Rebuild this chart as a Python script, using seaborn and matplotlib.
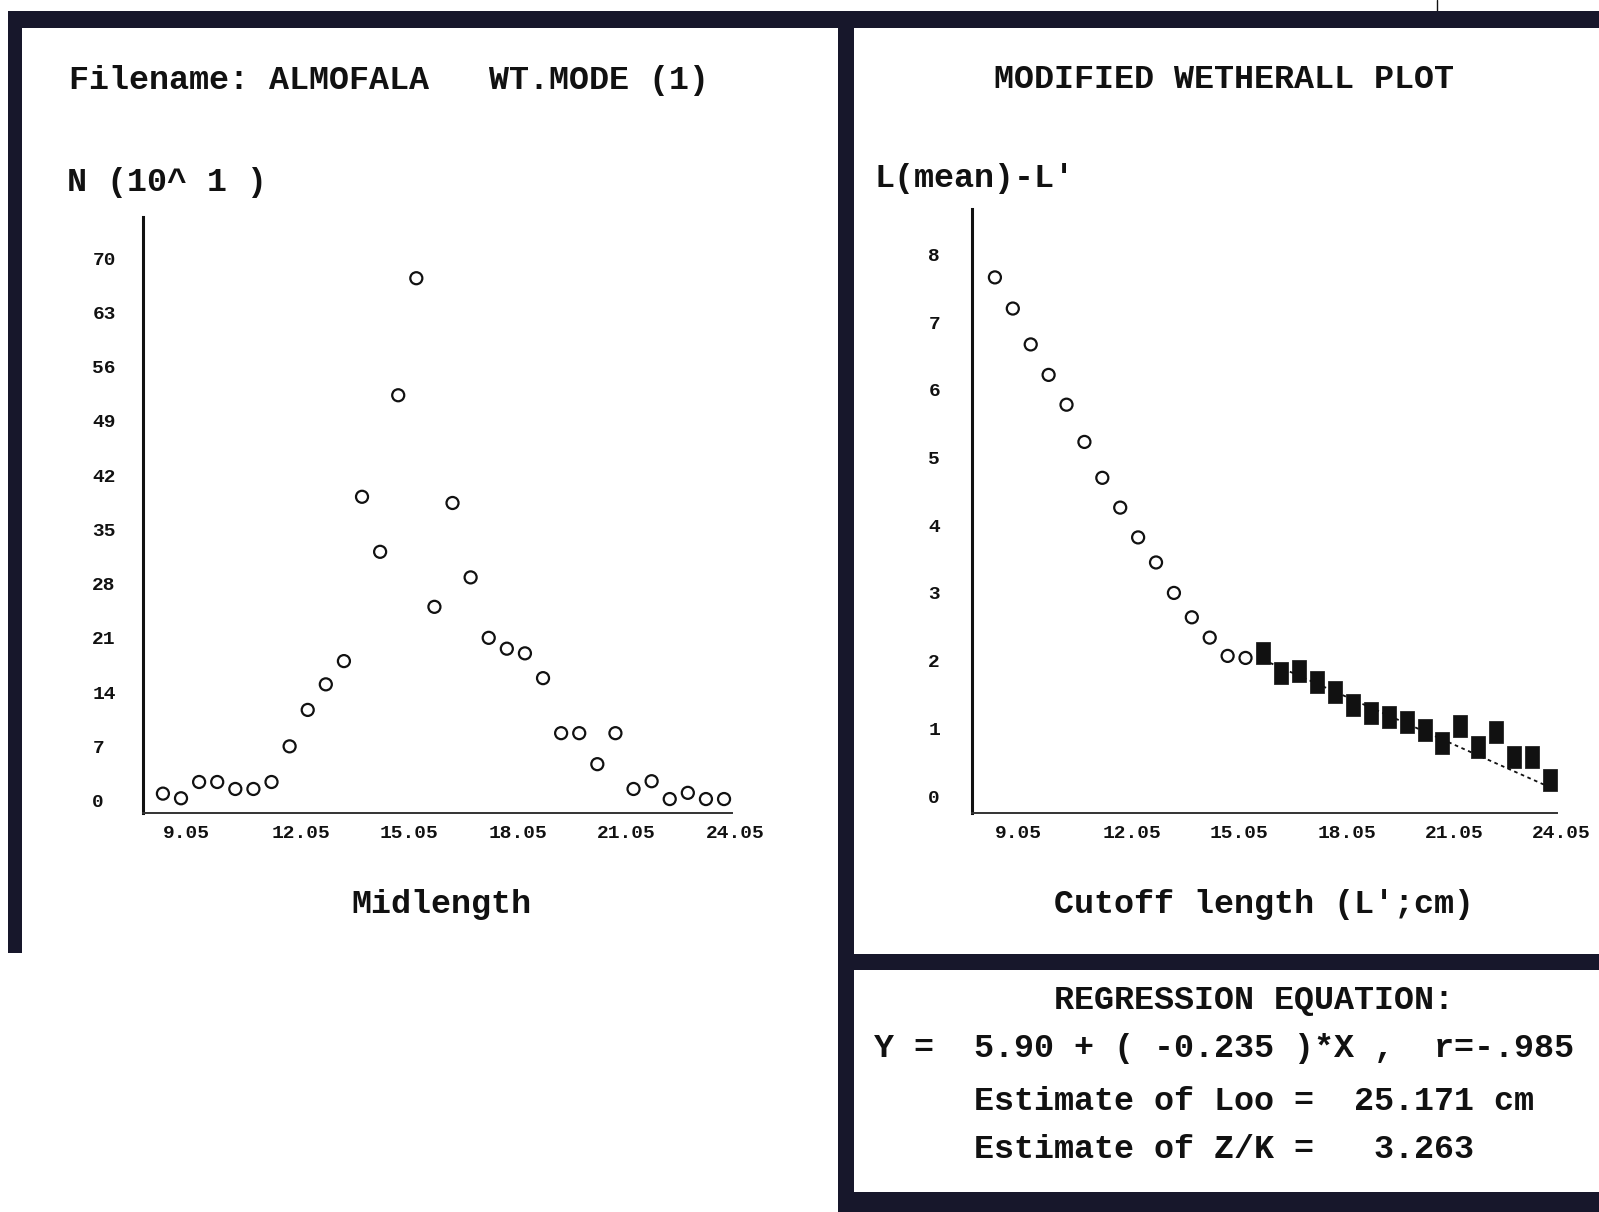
import numpy as np
import pandas as pd
import matplotlib
matplotlib.use("Agg")
import matplotlib.pyplot as plt
import seaborn as sns
from matplotlib.patches import Rectangle
from matplotlib.lines import Line2D

# ============================================================================
# DATA
# ============================================================================
midlength = [9.05, 9.55, 10.05, 10.55, 11.05, 11.55, 12.05, 12.55, 13.05, 13.55,
             14.05, 14.55, 15.05, 15.55, 16.05, 16.55, 17.05, 17.55, 18.05, 18.55,
             19.05, 19.55, 20.05, 20.55, 21.05, 21.55, 22.05, 22.55, 23.05, 23.55,
             24.05, 24.55]
n_freq = [0.9, 0.3, 2.4, 2.4, 1.5, 1.5, 2.4, 7.0, 11.7, 15.0,
          18.0, 39.2, 32.1, 52.3, 67.4, 25.0, 38.4, 28.8, 21.0, 19.6,
          19.0, 15.8, 8.7, 8.7, 4.7, 8.7, 1.5, 2.5, 0.2, 1.0,
          0.2, 0.2]

cutoff_open = [9.05, 9.55, 10.05, 10.55, 11.05, 11.55, 12.05, 12.55, 13.05,
               13.55, 14.05, 14.55, 15.05, 15.55, 16.05]
diff_open = [7.66, 7.20, 6.67, 6.22, 5.78, 5.23, 4.70, 4.26, 3.82,
             3.45, 3.00, 2.64, 2.34, 2.07, 2.04]
cutoff_used = [16.55, 17.05, 17.55, 18.05, 18.55, 19.05, 19.55, 20.05, 20.55,
               21.05, 21.55, 22.05, 22.55, 23.05, 23.55, 24.05, 24.55]
diff_used = [2.12, 1.82, 1.84, 1.68, 1.53, 1.35, 1.23, 1.17, 1.10,
             0.98, 0.79, 1.03, 0.73, 0.94, 0.57, 0.57, 0.24]

reg_a, reg_b = 5.90, -0.235
reg_x = [16.55, 24.55]

left_yticks = [0, 7, 14, 21, 28, 35, 42, 49, 56, 63, 70]
right_yticks = [0, 1, 2, 3, 4, 5, 6, 7, 8]
xticks = [9.05, 12.05, 15.05, 18.05, 21.05, 24.05]
xtick_labels = ["9.05", "12.05", "15.05", "18.05", "21.05", "24.05"]

box_lines = ["         REGRESSION EQUATION:",
             "Y =  5.90 + ( -0.235 )*X ,  r=-.985",
             "     Estimate of Loo =  25.171 cm",
             "     Estimate of Z/K =   3.263"]

# ============================================================================
# STYLE
# ============================================================================
W, H = 1599, 1212
sns.set_theme(style="white")
plt.rcParams["font.family"] = ["Liberation Mono", "DejaVu Sans Mono"]
plt.rcParams["font.weight"] = "bold"
INK = "#111111"
FRAME = "#17172b"

fig = plt.figure(figsize=(W / 100, H / 100), dpi=100)
fig.patch.set_facecolor("white")


def fx(x):
    return x / W


def fy(y):
    return 1 - y / H


def px_axes(x0, y0, x1, y1):
    return fig.add_axes([fx(x0), fy(y1), fx(x1 - x0), (y1 - y0) / H])


def style_axes(ax, ypad):
    sns.despine(ax=ax)
    ax.set_facecolor("white")
    ax.spines["left"].set_linewidth(2.2)
    ax.spines["left"].set_color(INK)
    ax.spines["bottom"].set_linewidth(1.4)
    ax.spines["bottom"].set_color("#333333")
    ax.spines["bottom"].set_linestyle((0, (3, 1)))
    ax.tick_params(axis="both", direction="in", length=4, width=1.2,
                   colors=INK, labelsize=14)
    ax.tick_params(axis="y", pad=ypad)
    ax.tick_params(axis="x", pad=9)
    for lab in ax.get_yticklabels():
        lab.set_horizontalalignment("left")
    for lab in ax.get_xticklabels():
        lab.set_horizontalalignment("left")
    ax.set_xlabel("")
    ax.set_ylabel("")
    ax.grid(False)


# ============================================================================
# LEFT PANEL : length frequency
# ============================================================================
ax1 = px_axes(143, 217, 732, 813)
df_left = pd.DataFrame({"x": midlength, "n": n_freq})
sns.scatterplot(data=df_left, x="x", y="n", ax=ax1, marker="o", s=75,
                facecolor="none", edgecolor=INK, linewidth=1.6)
ax1.set_xlim(8.50, 24.77)
ax1.set_ylim(-1.6, 75.3)
ax1.set_yticks(left_yticks)
ax1.set_yticklabels([str(v) for v in left_yticks])
ax1.set_xticks(xticks)
ax1.set_xticklabels(xtick_labels)
style_axes(ax1, ypad=36.5)

# ============================================================================
# RIGHT PANEL : modified Wetherall plot
# ============================================================================
ax2 = px_axes(972, 209, 1557, 813)
df_open = pd.DataFrame({"x": cutoff_open, "y": diff_open})
df_used = pd.DataFrame({"x": cutoff_used, "y": diff_used})
df_reg = pd.DataFrame({"x": reg_x, "y": [reg_a + reg_b * v for v in reg_x]})

sns.lineplot(data=df_reg, x="x", y="y", ax=ax2, color=INK, linewidth=1.3,
             linestyle=(0, (2, 2)))
sns.scatterplot(data=df_open, x="x", y="y", ax=ax2, marker="o", s=75,
                facecolor="none", edgecolor=INK, linewidth=1.6)
rect_marker = [(-0.33, -0.5), (0.33, -0.5), (0.33, 0.5), (-0.33, 0.5), (-0.33, -0.5)]
sns.scatterplot(data=df_used, x="x", y="y", ax=ax2, marker=rect_marker, s=240,
                color=INK, edgecolor=INK, linewidth=0.5)
ax2.set_xlim(8.41, 24.75)
ax2.set_ylim(-0.25, 8.67)
ax2.set_yticks(right_yticks)
ax2.set_yticklabels([str(v) for v in right_yticks])
ax2.set_xticks(xticks)
ax2.set_xticklabels(xtick_labels)
style_axes(ax2, ypad=31.5)

# ============================================================================
# TEXTS
# ============================================================================
txt = dict(fontsize=24, color=INK, va="center", ha="left", fontweight="bold")
fig.text(fx(69), fy(80), "Filename: ALMOFALA   WT.MODE (1)", **txt)
fig.text(fx(67), fy(182), "N (10^ 1 )", **txt)
fig.text(fx(994), fy(80), "MODIFIED WETHERALL PLOT", **txt)
fig.text(fx(875), fy(178), "L(mean)-L'", **txt)
fig.text(fx(441), fy(905), "Midlength", **{**txt, "ha": "center"})
fig.text(fx(1264), fy(905), "Cutoff length (L';cm)", **{**txt, "ha": "center"})

for i, line in enumerate(box_lines):
    fig.text(fx(874), fy([1001, 1049, 1101, 1149][i]), line, **txt)

# ============================================================================
# SCREEN FRAME
# ============================================================================
frames = [(8, 11, 1599, 28),      # top band
          (8, 11, 22, 953),       # left edge
          (838, 11, 854, 1212),   # middle separator
          (838, 954, 1599, 970),  # band above regression box
          (838, 1192, 1599, 1212)]  # bottom band
for x0, y0, x1, y1 in frames:
    fig.patches.append(Rectangle((fx(x0), fy(y1)), fx(x1 - x0), (y1 - y0) / H,
                                 transform=fig.transFigure, facecolor=FRAME,
                                 edgecolor="none", zorder=5))
fig.lines.append(Line2D([fx(1437), fx(1437)], [fy(0), fy(11)],
                        transform=fig.transFigure, color=INK, linewidth=1))

fig.savefig("out.png", dpi=100, facecolor="white")
